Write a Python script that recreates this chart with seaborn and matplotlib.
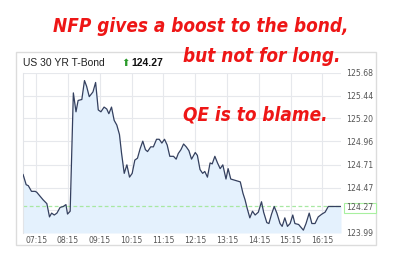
import numpy as np
import pandas as pd
import matplotlib
matplotlib.use("Agg")
import matplotlib.pyplot as plt
import seaborn as sns
from matplotlib.patches import Rectangle
from matplotlib import font_manager as fm

# ---- data (minutes after 06:50, price) ----
minutes = [0, 6, 10, 16, 23, 26, 32, 38, 45, 50, 54, 59, 64, 70, 76, 81, 84, 89,
           95, 100, 104, 111, 116, 120, 125, 132, 137, 142, 147, 153, 158, 162, 167,
           172, 177, 182, 186, 191, 196, 201, 206, 211, 216, 221, 226, 231, 235, 241,
           246, 252, 257, 262, 267, 272, 277, 284, 289, 293, 298, 303, 308, 313, 318,
           325, 329, 334, 339, 343, 348, 353, 357, 362, 367, 372, 377, 383, 387, 392,
           398, 404, 410, 415, 419, 423, 428, 433, 438, 444, 450, 454, 460, 464, 469,
           474, 479, 485, 489, 494, 499, 504, 509, 513, 520, 529, 534, 540, 545, 551,
           557, 564, 570, 576, 583, 592, 600]
prices = [124.61, 124.50, 124.49, 124.43, 124.43, 124.42, 124.38, 124.34, 124.30, 124.16,
          124.20, 124.18, 124.20, 124.26, 124.27, 124.29, 124.19, 124.22,
          125.47, 125.27, 125.39, 125.40, 125.60, 125.54, 125.43, 125.48, 125.58, 125.29,
          125.27, 125.32, 125.30, 125.25, 125.32,
          125.18, 125.13, 125.03, 124.83, 124.62, 124.71, 124.58, 124.62, 124.76, 124.78,
          124.88, 124.96, 124.87, 124.85, 124.90,
          124.90, 124.98, 124.98, 124.94, 124.98, 124.92, 124.80, 124.80, 124.77, 124.83,
          124.87, 124.93, 124.90, 124.86, 124.77,
          124.84, 124.81, 124.66, 124.62, 124.64, 124.58, 124.73, 124.72, 124.80, 124.73,
          124.67, 124.71, 124.56, 124.67, 124.56,
          124.55, 124.54, 124.53, 124.41, 124.34, 124.25, 124.15, 124.22, 124.18, 124.21,
          124.32, 124.21, 124.10, 124.09, 124.19,
          124.27, 124.20, 124.09, 124.06, 124.15, 124.06, 124.09, 124.18, 124.09, 124.08,
          124.02, 124.09, 124.20, 124.09, 124.09,
          124.16, 124.19, 124.21, 124.27, 124.27, 124.27, 124.27]

x_tick_minutes = [25, 85, 145, 205, 265, 325, 385, 445, 505, 565]
x_tick_labels = ["07:15", "08:15", "09:15", "10:15", "11:15", "12:15",
                 "13:15", "14:15", "15:15", "16:15"]
y_ticks = [125.68, 125.44, 125.20, 124.96, 124.71, 124.47, 124.23, 123.99]
y_labels = ["125.68", "125.44", "125.20", "124.96", "124.71", "124.47", "", "123.99"]
last_price = 124.27
last_label = "124.27"
title = "US 30 YR T-Bond"
headline = ["NFP gives a boost to the bond,", "but not for long.", "QE is to blame."]

sns.set_theme(style="white")
plt.rcParams['font.family'] = ['DejaVu Sans']

# pick a condensed bold italic face if one is installed
def pick_headline_font():
    best = None
    for f in fm.fontManager.ttflist:
        fname = f.fname.lower()
        narrow = ('narrow' in fname or 'condensed' in fname or 'narrow' in f.name.lower())
        bold = (f.weight in ('bold', 700, 'heavy', 800, 900) or
                (isinstance(f.weight, int) and f.weight >= 700))
        ital = f.style in ('italic', 'oblique')
        if narrow and bold and ital:
            if 'liberation' in fname:
                return fm.FontProperties(fname=f.fname)
            if best is None:
                best = fm.FontProperties(fname=f.fname)
    if best is not None:
        return best
    return fm.FontProperties(family=['Liberation Sans', 'DejaVu Sans'],
                             weight='bold', style='italic')

W, H = 400, 274
fig = plt.figure(figsize=(4, 2.74), dpi=100)
fig.patch.set_facecolor('white')

def fx(px):
    return px / W

def fy(py):
    return 1 - py / H

# card border
fig.patches.append(Rectangle((fx(16), fy(245)), fx(376) - fx(16), fy(52) - fy(245),
                             transform=fig.transFigure, fill=False,
                             edgecolor='#dcdcdc', lw=1.0, zorder=0))

ax = fig.add_axes([fx(23), fy(233), fx(341) - fx(23), fy(73) - fy(233)])
df = pd.DataFrame({'minute': minutes, 'price': prices})
ax.fill_between(df['minute'], df['price'], y_ticks[-1], color='#e4f1fd', lw=0, zorder=1)
sns.lineplot(data=df, x='minute', y='price', ax=ax, color='#34405f', lw=0.9, zorder=3)
ax.axhline(last_price, color='#a8e8a2', ls=(0, (3, 2)), lw=0.9, zorder=2)
ax.set_xlim(0, 600)
ax.set_ylim(y_ticks[-1], y_ticks[0])
ax.set_xticks(x_tick_minutes)
ax.set_xticklabels(x_tick_labels)
ax.set_yticks(y_ticks)
ax.set_yticklabels(y_labels)
ax.yaxis.tick_right()
ax.tick_params(axis='both', length=0, labelsize=5.6, labelcolor='#555555')
ax.tick_params(axis='x', pad=2.5)
ax.tick_params(axis='y', pad=3.4)
ax.grid(True, color='#e6e8ec', lw=0.8, zorder=0)
ax.set_axisbelow(True)
for s in ['top', 'right', 'bottom']:
    ax.spines[s].set_visible(False)
ax.spines['left'].set_color('#e2e4e8')
ax.spines['left'].set_linewidth(0.8)
ax.set_xlabel('')
ax.set_ylabel('')
ax.set_facecolor('white')

# last price label box
fig.patches.append(Rectangle((fx(344), fy(212.7)), fx(376) - fx(344), fy(202.7) - fy(212.7),
                             transform=fig.transFigure, facecolor='white',
                             edgecolor='#a8f0a0', lw=0.8, zorder=5))
fig.text(fx(346), fy(207.7), last_label, fontsize=5.6, color='#555555',
         va='center', ha='left', zorder=6)

# title
fig.text(fx(23), fy(66), title, family=['Liberation Sans', 'DejaVu Sans'],
         fontsize=7.5, color='#222222', va='baseline', ha='left')
fig.text(fx(121.5), fy(66.5), "\u2b06", family=['DejaVu Sans'], fontsize=7.2,
         color='#2a9a2a', va='baseline', ha='left')
fig.text(fx(131.5), fy(66), last_label, family=['Liberation Sans', 'DejaVu Sans'],
         fontsize=7.5, fontweight='bold', color='#111111', va='baseline', ha='left')

# red headline
red = '#ee1616'
fp = pick_headline_font()
base = 14
t1 = fig.text(fx(53), fy(32), headline[0], fontproperties=fp, fontsize=base,
              color=red, va='baseline', ha='left', zorder=10)
fig.canvas.draw()
w = t1.get_window_extent().width
size = base * 297.0 / w
t1.set_fontsize(size)
fig.text(fx(183), fy(62), headline[1], fontproperties=fp, fontsize=size,
         color=red, va='baseline', ha='left', zorder=10)
fig.text(fx(183), fy(120.5), headline[2], fontproperties=fp, fontsize=size,
         color=red, va='baseline', ha='left', zorder=10)

fig.savefig('out.png', dpi=100, facecolor='white')
